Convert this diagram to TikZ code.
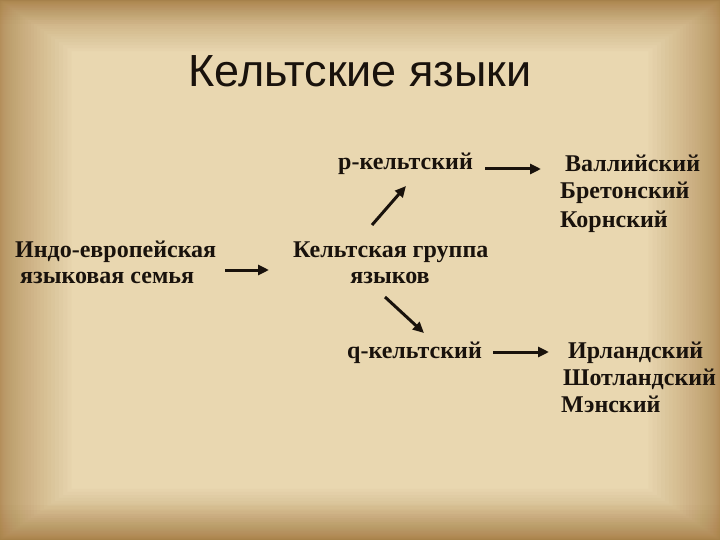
\documentclass[tikz,border=0pt]{standalone}
\usepackage{fontspec}
\setmainfont{Liberation Serif}
\newfontfamily\titlefont{Liberation Sans}
\usetikzlibrary{arrows.meta}
\definecolor{paper}{RGB}{233,215,176}
\definecolor{paperedge}{RGB}{160,115,55}
\definecolor{ink}{RGB}{25,18,12}
\tikzset{
  lbl/.style={anchor=base west, inner sep=0pt, text=ink, font=\fontsize{24}{27}\selectfont\bfseries},
  arr/.style={draw=ink, line width=3pt, -{Triangle[length=11pt,width=10pt]}}
}
\begin{document}
\begin{tikzpicture}[x=1pt,y=-1pt]
\useasboundingbox (0,0) rectangle (720,540);
\fill[paper] (0,0) rectangle (720,540);
\foreach \i in {1,...,32}{
  \fill[paperedge, opacity=0.03, even odd rule] (0,0) rectangle (720,540) (0.07*\i*\i,0.05*\i*\i) rectangle (720-0.07*\i*\i,540-0.05*\i*\i);
}
\foreach \i in {1,...,14}{
  \fill[paperedge, opacity=0.03] (0,0) rectangle (720,0.12*\i*\i);
  \fill[paperedge, opacity=0.035] (0,540) rectangle (720,540-0.18*\i*\i);
}
\node[anchor=base, inner sep=0pt, text=ink, font=\titlefont\fontsize{45}{48}\selectfont] (title) at (360,87) {Кельтские языки};

\node[lbl] (ie1) at (15,257) {Индо-европейская};
\node[lbl] (ie2) at (20,283) {языковая семья};
\node[lbl] (grp1) at (293,257) {Кельтская группа};
\node[lbl, anchor=base] (grp2) at (390,283) {языков};
\node[lbl] (p) at (338,170) {p-кельтский};
\node[lbl] (q) at (347,358) {q-кельтский};
\node[lbl] (w) at (565,172) {Валлийский};
\node[lbl] (b) at (560,199) {Бретонский};
\node[lbl] (k) at (560,227) {Корнский};
\node[lbl] (ir) at (568,358) {Ирландский};
\node[lbl] (sh) at (563,385) {Шотландский};
\node[lbl] (m) at (561,412) {Мэнский};

\coordinate (a1s) at (225,270);
\coordinate (a1e) at (269,270);
\coordinate (a2s) at (485,169);
\coordinate (a2e) at (541,169);
\coordinate (a3s) at (372,225);
\coordinate (a3e) at (406,186);
\coordinate (a4s) at (385,297);
\coordinate (a4e) at (424,333);
\coordinate (a5s) at (493,352);
\coordinate (a5e) at (549,352);
\draw[arr] (a1s) -- (a1e);
\draw[arr] (a2s) -- (a2e);
\draw[arr] (a3s) -- (a3e);
\draw[arr] (a4s) -- (a4e);
\draw[arr] (a5s) -- (a5e);
\end{tikzpicture}
\end{document}
